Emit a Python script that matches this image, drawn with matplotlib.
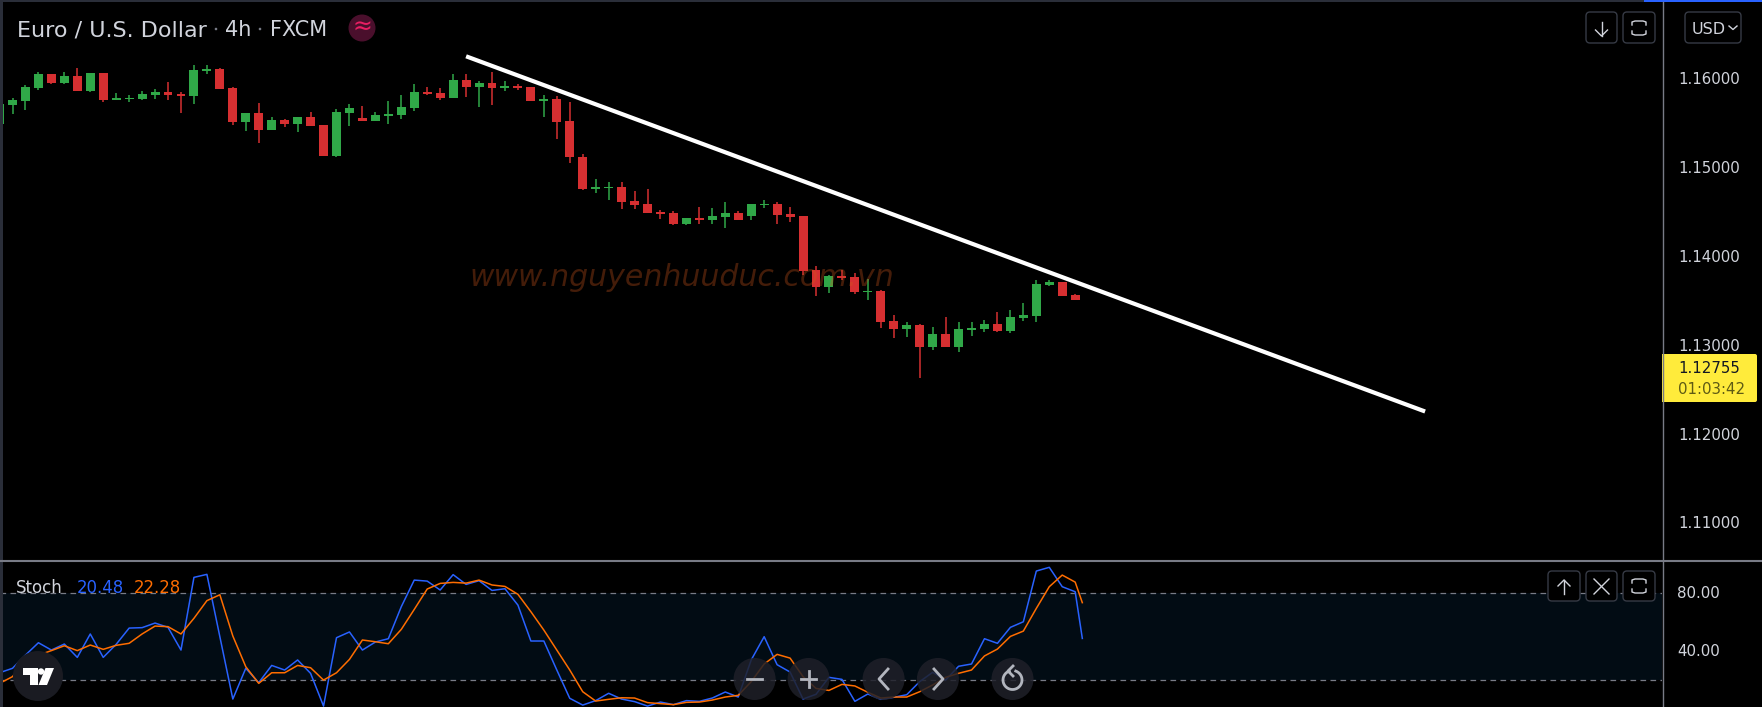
import numpy as np
import matplotlib
matplotlib.use('Agg')
import matplotlib.pyplot as plt
from matplotlib.patches import Circle, FancyBboxPatch, Polygon, Rectangle

# candles, first one is clipped by the left border
first_index = -1
opens = [1.15500, 1.15713, 1.15758, 1.15904, 1.16062, 1.15961, 1.16040, 1.15871, 1.16073, 1.15769,
         1.15781, 1.15781, 1.15826, 1.15859, 1.15837, 1.15814, 1.16096, 1.16118, 1.15904, 1.15522,
         1.15623, 1.15432, 1.15544, 1.15500, 1.15578, 1.15488, 1.15140, 1.15623, 1.15567, 1.15533,
         1.15589, 1.15601, 1.15679, 1.15859, 1.15848, 1.15792, 1.15995, 1.15916, 1.15961, 1.15904,
         1.15927, 1.15916, 1.15758, 1.15781, 1.15533, 1.15127, 1.14768, 1.14779, 1.14790, 1.14633,
         1.14599, 1.14509, 1.14498, 1.14374, 1.14441, 1.14419, 1.14453, 1.14498, 1.14464, 1.14588,
         1.14599, 1.14486, 1.14464, 1.13856, 1.13665, 1.13789, 1.13778, 1.13609, 1.13620, 1.13283,
         1.13193, 1.13238, 1.12990, 1.13136, 1.12990, 1.13181, 1.13193, 1.13249, 1.13170, 1.13316,
         1.13339, 1.13688, 1.13721, 1.13575]
highs = [1.15724, 1.15796, 1.15938, 1.16085, 1.16062, 1.16085, 1.16130, 1.16073, 1.16073, 1.15848,
         1.15826, 1.15871, 1.15893, 1.15972, 1.15859, 1.16163, 1.16163, 1.16130, 1.15916, 1.15623,
         1.15736, 1.15578, 1.15556, 1.15578, 1.15634, 1.15488, 1.15668, 1.15724, 1.15702, 1.15634,
         1.15758, 1.15826, 1.15949, 1.15916, 1.15904, 1.16062, 1.16062, 1.15983, 1.16085, 1.15983,
         1.15949, 1.15916, 1.15826, 1.15814, 1.15747, 1.15161, 1.14880, 1.14846, 1.14846, 1.14745,
         1.14768, 1.14531, 1.14520, 1.14441, 1.14565, 1.14554, 1.14621, 1.14520, 1.14599, 1.14644,
         1.14621, 1.14565, 1.14464, 1.13901, 1.13800, 1.13856, 1.13823, 1.13755, 1.13631, 1.13350,
         1.13271, 1.13249, 1.13215, 1.13328, 1.13271, 1.13271, 1.13294, 1.13384, 1.13406, 1.13485,
         1.13744, 1.13744, 1.13721, 1.13586]
lows = [1.15500, 1.15612, 1.15657, 1.15882, 1.15949, 1.15949, 1.15871, 1.15859, 1.15747, 1.15769,
        1.15747, 1.15769, 1.15781, 1.15769, 1.15623, 1.15724, 1.16062, 1.15893, 1.15488, 1.15421,
        1.15286, 1.15432, 1.15466, 1.15410, 1.15477, 1.15140, 1.15128, 1.15477, 1.15533, 1.15533,
        1.15500, 1.15556, 1.15646, 1.15826, 1.15769, 1.15792, 1.15803, 1.15691, 1.15713, 1.15871,
        1.15882, 1.15758, 1.15578, 1.15331, 1.15060, 1.14756, 1.14723, 1.14644, 1.14543, 1.14543,
        1.14498, 1.14430, 1.14363, 1.14363, 1.14374, 1.14374, 1.14329, 1.14419, 1.14419, 1.14554,
        1.14374, 1.14396, 1.13800, 1.13564, 1.13598, 1.13744, 1.13586, 1.13519, 1.13204, 1.13091,
        1.13103, 1.12642, 1.12956, 1.12990, 1.12934, 1.13114, 1.13159, 1.13159, 1.13148, 1.13283,
        1.13271, 1.13676, 1.13564, 1.13519]
closes = [1.15724, 1.15769, 1.15916, 1.16062, 1.15961, 1.16040, 1.15871, 1.16073, 1.15769, 1.15792,
          1.15792, 1.15837, 1.15859, 1.15826, 1.15814, 1.16107, 1.16118, 1.15893, 1.15522, 1.15623,
          1.15432, 1.15544, 1.15500, 1.15578, 1.15477, 1.15140, 1.15634, 1.15679, 1.15533, 1.15601,
          1.15612, 1.15691, 1.15859, 1.15837, 1.15792, 1.15995, 1.15916, 1.15961, 1.15904, 1.15927,
          1.15904, 1.15758, 1.15781, 1.15522, 1.15127, 1.14768, 1.14790, 1.14790, 1.14621, 1.14588,
          1.14498, 1.14487, 1.14374, 1.14441, 1.14419, 1.14464, 1.14498, 1.14419, 1.14599, 1.14599,
          1.14475, 1.14453, 1.13845, 1.13665, 1.13789, 1.13766, 1.13609, 1.13620, 1.13271, 1.13193,
          1.13238, 1.12990, 1.13136, 1.12990, 1.13193, 1.13204, 1.13249, 1.13170, 1.13328, 1.13350,
          1.13699, 1.13721, 1.13564, 1.13519]

# trend line ends (bar index, price)
trend_x = [35.0, 109.0]
trend_y = [1.16262, 1.12265]

price_ticks = [1.16, 1.15, 1.14, 1.13, 1.12, 1.11]
stoch_ticks = [80, 40]

# stochastic, same bars as the candles plus a cut off last point
k_line = [24.7, 27.8, 37.0, 45.6, 40.5, 44.7, 35.4, 51.7, 35.4, 44.5, 55.8, 56.1, 59.3, 56.3, 40.5,
          91.1, 93.2, 49.8, 6.4, 27.8, 17.8, 29.8, 26.6, 33.6, 24.3, 1.5, 49.1, 53.1, 40.5, 46.1,
          48.4, 70.7, 89.2, 88.5, 82.3, 93.0, 86.2, 88.8, 82.0, 83.2, 71.8, 46.8, 46.8, 26.6, 6.9,
          2.2, 5.3, 10.4, 6.4, 4.6, 1.5, 4.3, 2.5, 5.3, 4.8, 7.1, 11.3, 7.8, 33.6, 49.8,
          30.3, 25.2, 6.4, 9.7, 21.5, 20.1, 4.8, 9.9, 6.2, 7.6, 9.4, 18.5, 25.0, 19.6, 29.2,
          30.8, 48.4, 45.2, 56.3, 60.2, 95.5, 98.1, 84.6, 81.1, 48.6]
d_line = [17.3, 22.0, 33.6, 37.0, 40.1, 43.5, 40.1, 44.0, 41.0, 43.8, 45.2, 51.7, 57.2, 56.8, 51.7,
          62.6, 74.9, 79.0, 50.3, 28.9, 17.3, 24.7, 24.7, 29.8, 28.2, 19.6, 24.7, 34.0, 47.5, 46.3,
          44.9, 54.9, 68.8, 83.0, 86.9, 87.6, 87.1, 89.2, 85.8, 84.8, 79.3, 67.2, 54.4, 40.5, 26.6,
          11.5, 5.0, 6.2, 7.3, 7.1, 3.9, 3.2, 2.5, 4.1, 4.3, 5.7, 7.8, 9.0, 18.5, 30.8,
          37.5, 34.9, 22.0, 13.8, 12.4, 16.6, 15.5, 11.1, 7.1, 7.8, 7.8, 11.5, 16.2, 21.5, 24.3,
          26.6, 36.4, 41.2, 50.0, 53.7, 69.5, 84.6, 92.7, 87.8, 73.5]
last_stoch_x = 82.55

GREEN = '#30a848'
RED = '#d62f31'
BLUE = '#2962ff'
ORANGE = '#ff6d00'
GREY = '#787b86'
LABEL = '#d1d4dc'
W, H = 1762, 707

plt.rcParams['font.family'] = ['DejaVu Sans']

fig = plt.figure(figsize=(W / 100, H / 100), dpi=100, facecolor='black')


def pane(top, bottom):
    ax = fig.add_axes([0, 1 - bottom / H, 1662 / W, (bottom - top) / H], facecolor='black')
    ax.set_xlim(-0.965, 127.28)
    ax.set_xticks([])
    ax.set_yticks([])
    for s in ax.spines.values():
        s.set_visible(False)
    return ax


# price pane
ax = pane(2, 560)
ax.set_ylim(1.10594, 1.16873)
x = np.arange(len(opens)) + first_index
o, h, l, c = map(np.array, (opens, highs, lows, closes))
colors = [GREEN if b >= a else RED for a, b in zip(o, c)]
ax.vlines(x, l, h, colors=colors, lw=1.1, zorder=2)
ax.bar(x, np.maximum(np.abs(c - o), 0.00005), bottom=np.minimum(o, c), width=0.69, color=colors, zorder=3)
ax.plot(trend_x, trend_y, color='white', lw=3.0, solid_capstyle='butt', zorder=4)
ax.text(0.4105, 0.507, 'www.nguyenhuuduc.com.vn', transform=ax.transAxes, ha='center', va='center',
        fontsize=21.6, style='italic', color='#d0581c', alpha=0.33, zorder=5)

# stochastic pane
ax2 = pane(561, 707)
ax2.set_ylim(0.86, 102.5)
ax2.axhspan(20, 80, color='#020c14', lw=0, zorder=1)
for level in (80, 20):
    ax2.axhline(level, color=GREY, lw=0.9, dashes=(4.5, 3.5), zorder=2)
sx = np.append(np.arange(len(k_line) - 1) + first_index, last_stoch_x)
ax2.plot(sx, k_line, color=BLUE, lw=1.1, zorder=3)
ax2.plot(sx, d_line, color=ORANGE, lw=1.1, zorder=4)

# everything around the panes, in pixels
ui = fig.add_axes([0, 0, 1, 1], facecolor='none')
ui.set_xlim(0, W)
ui.set_ylim(H, 0)
ui.axis('off')

ui.add_patch(Rectangle((0, 0), W, 2, color='#2a2e39', lw=0))
ui.add_patch(Rectangle((1644, 0), W - 1644, 2, color=BLUE, lw=0))
ui.add_patch(Rectangle((0, 0), 2.5, H, color='#2a2e39', lw=0))
ui.plot([1662.5, 1662.5], [2, H], color=GREY, lw=1)
ui.plot([0, W], [560.5, 560.5], color=GREY, lw=1.5)


def price_y(p):
    return 78.5 + (1.16 - p) * 8880


for p in price_ticks:
    ui.text(1678, price_y(p), '%.5f' % p, color=LABEL, fontsize=10.8, va='center_baseline')
for v in stoch_ticks:
    ui.text(1677, 678.5 - (v - 20) * 1.437, '%.2f' % v, color=LABEL, fontsize=10.8, va='center_baseline')

# last price tag
ui.add_patch(FancyBboxPatch((1664, 356), 91, 44, boxstyle='round,pad=2', color='#ffeb3b', lw=0))
ui.add_patch(Rectangle((1662, 354), 10, 48, color='#ffeb3b', lw=0))
ui.text(1678, 367, '1.12755', color='#131722', fontsize=10.8, va='center_baseline')
ui.text(1678, 388, '01:03:42', color='#5e5a14', fontsize=10.8, va='center_baseline')

# title
ui.text(17, 28, 'Euro / U.S. Dollar', color=LABEL, fontsize=16, va='center_baseline')
ui.text(225, 28, '4h', color=LABEL, fontsize=15, va='center_baseline')
ui.text(270, 28, 'FXCM', color=LABEL, fontsize=15, va='center_baseline')
ui.add_patch(Circle((216, 29), 1.3, color=GREY, lw=0))
ui.add_patch(Circle((260, 29), 1.3, color=GREY, lw=0))
ui.add_patch(Circle((362, 28), 13.5, color='#4a0f2c', lw=0))
ui.text(362, 27, '≈', color='#e91e63', fontsize=17, ha='center', va='center')

ui.text(16, 586, 'Stoch', color=LABEL, fontsize=12, va='center_baseline')
ui.text(77, 586, '20.48', color=BLUE, fontsize=11.9, va='center_baseline')
ui.text(134, 586, '22.28', color=ORANGE, fontsize=11.9, va='center_baseline')


def box(x0, y0, x1, y1):
    ui.add_patch(FancyBboxPatch((x0 + 4, y0 + 4), x1 - x0 - 8, y1 - y0 - 8, boxstyle='round,pad=4',
                                fc='black', ec='#363a45', lw=1, zorder=5))


def frame_icon(cx, cy):
    for sy in (-1, 1):
        ui.plot([cx - 7, cx - 7, cx - 4, cx + 4, cx + 7, cx + 7],
                [cy + sy * 3, cy + sy * 6, cy + sy * 7, cy + sy * 7, cy + sy * 6, cy + sy * 3],
                color=LABEL, lw=1, zorder=6)


def arrow_icon(cx, cy, d):
    ui.plot([cx, cx], [cy - d * 7, cy + d * 7], color=LABEL, lw=1, zorder=6)
    ui.plot([cx - 6, cx, cx + 6], [cy + d, cy + d * 7, cy + d], color=LABEL, lw=1, zorder=6)


box(1586, 12, 1617, 43)
arrow_icon(1601.5, 29, 1)
box(1623, 12, 1655, 43)
frame_icon(1639, 28)
box(1685, 12, 1741, 43)
ui.text(1692, 28, 'USD', color=LABEL, fontsize=11.5, va='center_baseline', zorder=6)
ui.plot([1729, 1733, 1737], [26, 29.5, 26], color=LABEL, lw=1, zorder=6)

box(1548, 571, 1580, 601)
arrow_icon(1564, 587, -1)
box(1586, 571, 1617, 601)
ui.plot([1594, 1609], [579, 594], color=LABEL, lw=1, zorder=6)
ui.plot([1594, 1609], [594, 579], color=LABEL, lw=1, zorder=6)
box(1623, 571, 1655, 601)
frame_icon(1639, 586)

# logo
ui.add_patch(Circle((38, 676), 25, color='#1a1b22', lw=0, zorder=7))
ui.add_patch(Polygon([(22.5, 668), (37.5, 668), (37.5, 685), (29.5, 685), (29.5, 674.5), (22.5, 674.5)],
                     color='white', lw=0, zorder=8))
ui.add_patch(Circle((41, 671.5), 3.2, color='white', lw=0, zorder=8))
ui.add_patch(Polygon([(45.5, 668), (54, 668), (47, 685), (38.5, 685)], color='white', lw=0, zorder=8))

# chart navigation buttons
for bx in (754.6, 808.6, 883.6, 937.9, 1012.5):
    ui.add_patch(Circle((bx, 679), 21, color='#1f2029', alpha=0.85, lw=0, zorder=7))
ui.plot([747, 762], [679, 679], color='#b2b5be', lw=2, zorder=8)
ui.plot([801, 816], [679, 679], color='#b2b5be', lw=2, zorder=8)
ui.plot([808.6, 808.6], [671, 687], color='#b2b5be', lw=2, zorder=8)
ui.plot([888, 879, 888], [669, 679, 689], color='#b2b5be', lw=2, zorder=8)
ui.plot([934, 943, 934], [669, 679, 689], color='#b2b5be', lw=2, zorder=8)
a = np.radians(np.linspace(-70, 250, 40))
ui.plot(1012.5 + 9.5 * np.cos(a), 680 + 9.5 * np.sin(a), color='#b2b5be', lw=2, zorder=8)
ui.plot([1013, 1008, 1013], [666, 671, 676], color='#b2b5be', lw=2, zorder=8)

fig.savefig('out.png', dpi=100, facecolor='black')
